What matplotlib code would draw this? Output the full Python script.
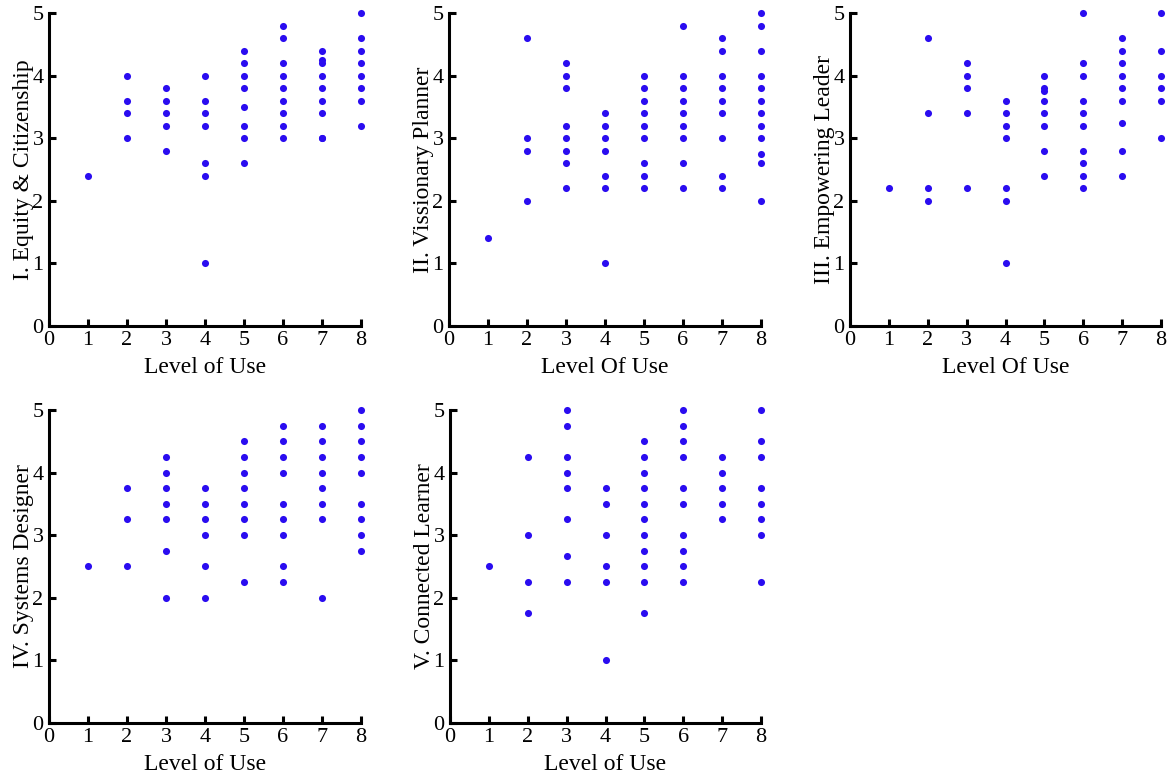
import numpy as np
import matplotlib
matplotlib.use('Agg')
import matplotlib.pyplot as plt

plt.rcParams['font.family'] = ['Liberation Serif', 'DejaVu Serif']

# data - level of use vs score, per standard
eq_x = [1, 2, 2, 2, 2, 3, 3, 3, 3, 3, 4, 4, 4, 4, 4, 4, 4,
        5, 5, 5, 5, 5, 5, 5, 5, 6, 6, 6, 6, 6, 6, 6, 6, 6,
        7, 7, 7, 7, 7, 7, 7, 7, 7, 8, 8, 8, 8, 8, 8, 8, 8]
eq_y = [2.4, 4.0, 3.6, 3.4, 3.0, 3.8, 3.6, 3.4, 3.2, 2.8, 4.0, 3.6, 3.4, 3.2, 2.6, 2.4, 1.0,
        4.4, 4.2, 4.0, 3.8, 3.5, 3.2, 3.0, 2.6, 4.8, 4.6, 4.2, 4.0, 3.8, 3.6, 3.4, 3.2, 3.0,
        4.4, 4.25, 4.2, 4.0, 3.8, 3.6, 3.4, 3.0, 3.0, 5.0, 4.6, 4.4, 4.2, 4.0, 3.8, 3.6, 3.2]

vp_x = [1, 2, 2, 2, 2, 3, 3, 3, 3, 3, 3, 3, 3, 4, 4, 4, 4, 4, 4, 4,
        5, 5, 5, 5, 5, 5, 5, 5, 5, 6, 6, 6, 6, 6, 6, 6, 6, 6,
        7, 7, 7, 7, 7, 7, 7, 7, 7, 8, 8, 8, 8, 8, 8, 8, 8, 8, 8, 8, 8]
vp_y = [1.4, 4.6, 3.0, 2.8, 2.0, 4.2, 4.0, 3.8, 3.2, 3.0, 2.8, 2.6, 2.2, 3.4, 3.2, 3.0, 2.8, 2.4, 2.2, 1.0,
        4.0, 3.8, 3.6, 3.4, 3.2, 3.0, 2.6, 2.4, 2.2, 4.8, 4.0, 3.8, 3.6, 3.4, 3.2, 3.0, 2.6, 2.2,
        4.6, 4.4, 4.0, 3.8, 3.6, 3.4, 3.0, 2.4, 2.2, 5.0, 4.8, 4.4, 4.0, 3.8, 3.6, 3.4, 3.2, 3.0, 2.75, 2.6, 2.0]

el_x = [1, 2, 2, 2, 2, 3, 3, 3, 3, 3, 4, 4, 4, 4, 4, 4, 4,
        5, 5, 5, 5, 5, 5, 5, 5, 6, 6, 6, 6, 6, 6, 6, 6, 6, 6,
        7, 7, 7, 7, 7, 7, 7, 7, 7, 8, 8, 8, 8, 8, 8]
el_y = [2.2, 4.6, 3.4, 2.2, 2.0, 4.2, 4.0, 3.8, 3.4, 2.2, 3.6, 3.4, 3.2, 3.0, 2.2, 2.0, 1.0,
        4.0, 3.8, 3.75, 3.6, 3.4, 3.2, 2.8, 2.4, 5.0, 4.2, 4.0, 3.6, 3.4, 3.2, 2.8, 2.6, 2.4, 2.2,
        4.6, 4.4, 4.2, 4.0, 3.8, 3.6, 3.25, 2.8, 2.4, 5.0, 4.4, 4.0, 3.8, 3.6, 3.0]

sd_x = [1, 2, 2, 2, 3, 3, 3, 3, 3, 3, 3, 4, 4, 4, 4, 4, 4,
        5, 5, 5, 5, 5, 5, 5, 5, 6, 6, 6, 6, 6, 6, 6, 6, 6,
        7, 7, 7, 7, 7, 7, 7, 7, 8, 8, 8, 8, 8, 8, 8, 8, 8]
sd_y = [2.5, 3.75, 3.25, 2.5, 4.25, 4.0, 3.75, 3.5, 3.25, 2.75, 2.0, 3.75, 3.5, 3.25, 3.0, 2.5, 2.0,
        4.5, 4.25, 4.0, 3.75, 3.5, 3.25, 3.0, 2.25, 4.75, 4.5, 4.25, 4.0, 3.5, 3.25, 3.0, 2.5, 2.25,
        4.75, 4.5, 4.25, 4.0, 3.75, 3.5, 3.25, 2.0, 5.0, 4.75, 4.5, 4.25, 4.0, 3.5, 3.25, 3.0, 2.75]

cl_x = [1, 2, 2, 2, 2, 3, 3, 3, 3, 3, 3, 3, 3, 4, 4, 4, 4, 4, 4,
        5, 5, 5, 5, 5, 5, 5, 5, 5, 5, 5, 6, 6, 6, 6, 6, 6, 6, 6, 6, 6,
        7, 7, 7, 7, 7, 8, 8, 8, 8, 8, 8, 8, 8]
cl_y = [2.5, 4.25, 3.0, 2.25, 1.75, 5.0, 4.75, 4.25, 4.0, 3.75, 3.25, 2.67, 2.25, 3.75, 3.5, 3.0, 2.5, 2.25, 1.0,
        4.5, 4.25, 4.0, 3.75, 3.5, 3.25, 3.0, 2.75, 2.5, 2.25, 1.75, 5.0, 4.75, 4.5, 4.25, 3.75, 3.5, 3.0, 2.75, 2.5, 2.25,
        4.25, 4.0, 3.75, 3.5, 3.25, 5.0, 4.5, 4.25, 3.75, 3.5, 3.25, 3.0, 2.25]

panels = [
    (eq_x, eq_y, 'I. Equity & Citizenship', 'Level of Use', (49, 13.3, 361, 325.7)),
    (vp_x, vp_y, 'II. Vissionary Planner', 'Level Of Use', (449, 13.3, 761, 325.7)),
    (el_x, el_y, 'III. Empowering Leader', 'Level Of Use', (850, 13.3, 1161, 325.7)),
    (sd_x, sd_y, 'IV. Systems Designer', 'Level of Use', (49, 410, 361, 722.7)),
    (cl_x, cl_y, 'V. Connected Learner', 'Level of Use', (450, 410, 761, 722.7)),
]

W, H = 1176, 782
fig = plt.figure(figsize=(W / 100, H / 100), dpi=100)

for xs, ys, ylab, xlab, (x0, y0, x1, y1) in panels:
    ax = fig.add_axes([x0 / W, (H - y1) / H, (x1 - x0) / W, (y1 - y0) / H])
    ax.scatter(xs, ys, s=26, color='#2a0cf0', linewidths=0, clip_on=False, zorder=3)
    ax.set_xlim(0, 8)
    ax.set_ylim(0, 5)
    ax.set_xticks(range(0, 9))
    ax.set_yticks(range(0, 6))
    for s in ['top', 'right']:
        ax.spines[s].set_visible(False)
    for s in ['left', 'bottom']:
        ax.spines[s].set_linewidth(2.2)
    ax.tick_params(direction='in', length=5, width=2.2, labelsize=16, pad=4)
    ax.set_xlabel(xlab, fontsize=17, labelpad=5)
    ax.set_ylabel(ylab, fontsize=17, labelpad=-1)

fig.savefig('out.png', dpi=100)
